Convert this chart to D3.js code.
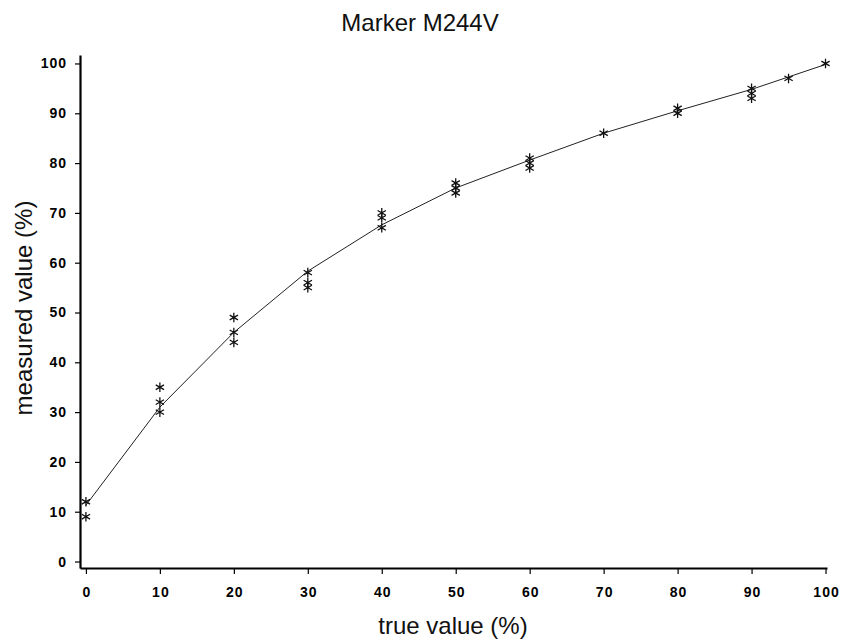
<!DOCTYPE html>
<html>
<head>
<meta charset="utf-8">
<script src="https://cdn.jsdelivr.net/npm/d3@7"></script>
<style>
  body { margin: 0; background: #fff; }
  svg { display: block; }
</style>
</head>
<body>
<div id="chart"></div>
<script>
// measured values per true value (replicates)
const trueLevels = [0, 10, 20, 30, 40, 50, 60, 70, 80, 90, 95, 100];
const measured = [
  [12, 9],
  [35, 32, 30],
  [49, 46, 44],
  [58, 56, 55],
  [70, 69, 67],
  [76, 75, 74],
  [81, 80, 79],
  [86],
  [91, 90],
  [95, 94, 93],
  [97],
  [100]
];

// fitted curve
const fitX = [0, 10, 20, 30, 40, 50, 60, 70, 80, 90, 100];
const fitY = [11.3, 31, 46, 58.3, 67.6, 75, 80.6, 86, 90.5, 94.8, 99.8];

const xTicks = [0, 10, 20, 30, 40, 50, 60, 70, 80, 90, 100];
const yTicks = [0, 10, 20, 30, 40, 50, 60, 70, 80, 90, 100];

const W = 843, H = 643;

const svg = d3.select("#chart")
  .append("svg")
  .attr("width", W)
  .attr("height", H);

// scales
const x = d3.scaleLinear().domain([-0.8, 100.2]).range([80, 827]);
const y = d3.scaleLinear().domain([-1.3, 101.7]).range([568, 55]);

// axes
const xAxis = svg.append("g")
  .attr("transform", `translate(0,568)`)
  .call(d3.axisBottom(x).tickValues(xTicks).tickSize(6).tickSizeOuter(0).tickPadding(13));
const yAxis = svg.append("g")
  .attr("transform", `translate(80,0)`)
  .call(d3.axisLeft(y).tickValues(yTicks).tickSize(5).tickSizeOuter(0).tickPadding(8));

[xAxis, yAxis].forEach(g => {
  g.select(".domain").attr("stroke", "#000").attr("stroke-width", 2.2);
  g.selectAll(".tick line").attr("stroke", "#000").attr("stroke-width", 1.2);
  g.selectAll(".tick text")
    .attr("fill", "#000")
    .style("font-family", "'Liberation Sans', Arial, sans-serif")
    .style("font-weight", "bold")
    .style("font-size", "14px")
    .style("letter-spacing", "1px");
});
xAxis.selectAll(".tick text").attr("dx", "0.5px");

// fitted line
const pairs = fitX.map((v, i) => [v, fitY[i]]);
svg.append("path")
  .datum(pairs)
  .attr("fill", "none")
  .attr("stroke", "#222")
  .attr("stroke-width", 1)
  .attr("d", d3.line().x(d => x(d[0])).y(d => y(d[1])));

// points
const pts = [];
trueLevels.forEach((t, i) => measured[i].forEach(m => pts.push({ t, m })));

const star = d3.symbol().type(d3.symbolAsterisk).size(64);
svg.selectAll(".pt")
  .data(pts)
  .join("path")
  .attr("class", "pt")
  .attr("transform", d => `translate(${x(d.t)},${y(d.m)})`)
  .attr("d", star)
  .attr("fill", "none")
  .attr("stroke", "#111")
  .attr("stroke-width", 1.3);

// title
svg.append("text")
  .attr("x", 420)
  .attr("y", 31)
  .attr("text-anchor", "middle")
  .style("font-family", "'Liberation Sans', Arial, sans-serif")
  .style("font-size", "24px")
  .attr("fill", "#111")
  .text("Marker M244V");

// axis labels
svg.append("text")
  .attr("x", 453)
  .attr("y", 634)
  .attr("text-anchor", "middle")
  .style("font-family", "'Liberation Sans', Arial, sans-serif")
  .style("font-size", "24px")
  .attr("fill", "#111")
  .text("true value (%)");

svg.append("text")
  .attr("transform", "rotate(-90)")
  .attr("x", -308)
  .attr("y", 32)
  .attr("text-anchor", "middle")
  .style("font-family", "'Liberation Sans', Arial, sans-serif")
  .style("font-size", "24px")
  .attr("fill", "#111")
  .text("measured value (%)");
</script>
</body>
</html>
